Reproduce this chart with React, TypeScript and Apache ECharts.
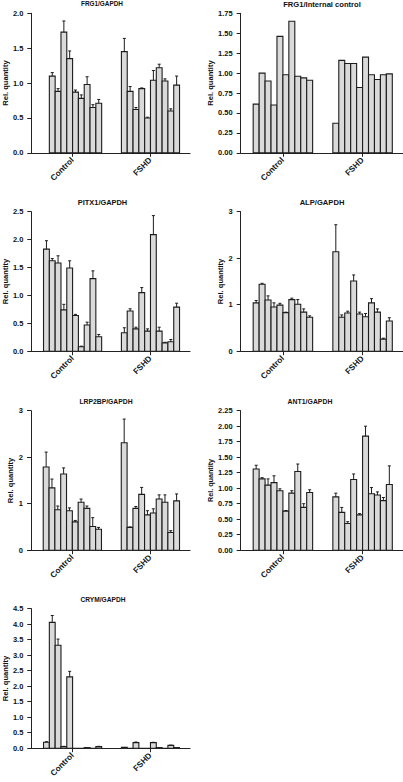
import React, { useEffect, useRef } from "react";
import * as echarts from "echarts";

// ---------- data ----------
const groupNames = ["Control", "FSHD"];

const frg1GapdhControl = [null, 1.10, 0.88, 1.73, 1.35, 0.87, 0.78, 0.98, 0.65, 0.71];
const frg1GapdhControlErr = [null, 0.05, 0.04, 0.16, 0.11, 0.03, 0.05, 0.11, 0.04, 0.055];
const frg1GapdhFshd = [1.45, 0.88, 0.62, 0.92, 0.50, 1.04, 1.22, 1.03, 0.60, 0.97];
const frg1GapdhFshdErr = [0.19, 0.07, 0.03, 0.01, 0.01, 0.14, 0.05, 0.03, 0.03, 0.13];

const frg1IcControl = [0.61, 1.00, 0.90, 0.60, 1.46, 0.98, 1.65, 0.96, 0.94, 0.91];
const frg1IcFshd = [0.37, 1.16, 1.12, 1.12, 0.82, 1.20, 0.98, 0.92, 0.98, 0.99];

const pitx1Control = [1.83, 1.62, 1.58, 0.74, 1.49, 0.64, 0.08, 0.47, 1.30, 0.26];
const pitx1ControlErr = [0.15, 0.04, 0.13, 0.10, 0.13, 0.02, 0.01, 0.05, 0.14, 0.04];
const pitx1Fshd = [0.33, 0.72, 0.40, 1.05, 0.36, 2.09, 0.36, 0.15, 0.17, 0.79];
const pitx1FshdErr = [0.09, 0.04, 0.03, 0.09, 0.04, 0.34, 0.07, 0.01, 0.04, 0.07];

const alpControl = [1.04, 1.44, 1.10, 0.95, 0.99, 0.83, 1.11, 1.01, 0.84, 0.73];
const alpControlErr = [0.05, 0.02, 0.09, 0.09, 0.04, 0.01, 0.03, 0.10, 0.07, 0.03];
const alpFshd = [2.14, 0.73, 0.82, 1.51, 0.80, 0.74, 1.04, 0.84, 0.26, 0.65];
const alpFshdErr = [0.58, 0.05, 0.04, 0.13, 0.04, 0.07, 0.09, 0.07, 0.02, 0.07];

const lrp2bpControl = [1.79, 1.34, 0.87, 1.64, 0.85, 0.61, 1.03, 0.90, 0.51, 0.45];
const lrp2bpControlErr = [0.32, 0.19, 0.08, 0.13, 0.06, 0.03, 0.07, 0.05, 0.19, 0.04];
const lrp2bpFshd = [2.31, 0.49, 0.90, 1.20, 0.76, 0.80, 1.10, 1.03, 0.38, 1.06];
const lrp2bpFshdErr = [0.51, 0.01, 0.04, 0.15, 0.09, 0.09, 0.09, 0.16, 0.04, 0.15];

const ant1Control = [1.31, 1.15, 1.05, 1.09, 0.96, 0.63, 0.92, 1.27, 0.69, 0.93];
const ant1ControlErr = [0.06, 0.02, 0.10, 0.11, 0.03, 0.01, 0.04, 0.12, 0.06, 0.045];
const ant1Fshd = [0.86, 0.61, 0.43, 1.14, 0.57, 1.84, 0.91, 0.89, 0.80, 1.06];
const ant1FshdErr = [0.06, 0.08, 0.03, 0.09, 0.02, 0.16, 0.10, 0.05, 0.05, 0.30];

const crymControl = [0.19, 4.06, 3.32, 0.05, 2.30, 0, 0, 0.02, 0, 0.05];
const crymControlErr = [0.02, 0.22, 0.20, 0.01, 0.18, 0, 0, 0, 0, 0.01];
const crymFshd = [0.03, 0, 0.18, 0, 0, 0.18, 0.02, 0, 0.09, 0.02];
const crymFshdErr = [0, 0, 0.02, 0, 0, 0.01, 0, 0, 0.01, 0];

// y-axis tick settings: [max, interval, decimals]
const yFrg1Gapdh = [2, 0.5, 1];
const yFrg1Ic = [1.75, 0.25, 2];
const yPitx1 = [2.5, 0.5, 1];
const yAlp = [3, 1, 0];
const yLrp2bp = [3, 1, 0];
const yAnt1 = [2.25, 0.25, 2];
const yCrym = [4.5, 0.5, 1];

// ---------- layout ----------
const COL_X = [31, 240.7];
const COL_W = [159, 163];
const ROW_TOP = [13.3, 211.7, 410.7, 608.7];
const ROW_H = 139.5;
const GROUP_START = [2.1, 15.5]; // slot units on the hidden value axis
const X_MAX = 27.3;
const FONT = "'Liberation Sans', Arial, Helvetica, sans-serif";

type Panel = {
  title: string;
  col: number;
  row: number;
  titleX: number;
  titleSize: number;
  nameGap: number;
  nameSize: number;
  y: number[];
  control: (number | null)[];
  controlErr: (number | null)[] | null;
  fshd: (number | null)[];
  fshdErr: (number | null)[] | null;
};

const panels: Panel[] = [
  { title: "FRG1/GAPDH", col: 0, row: 0, titleX: 102, titleSize: 6.4, nameGap: 17, nameSize: 7.6, y: yFrg1Gapdh,
    control: frg1GapdhControl, controlErr: frg1GapdhControlErr, fshd: frg1GapdhFshd, fshdErr: frg1GapdhFshdErr },
  { title: "FRG1/Internal control", col: 1, row: 0, titleX: 322, titleSize: 7.6, nameGap: 14, nameSize: 7.6, y: yFrg1Ic,
    control: frg1IcControl, controlErr: null, fshd: frg1IcFshd, fshdErr: null },
  { title: "PITX1/GAPDH", col: 0, row: 1, titleX: 102.5, titleSize: 7.4, nameGap: 17, nameSize: 7.6, y: yPitx1,
    control: pitx1Control, controlErr: pitx1ControlErr, fshd: pitx1Fshd, fshdErr: pitx1FshdErr },
  { title: "ALP/GAPDH", col: 1, row: 1, titleX: 322, titleSize: 7.6, nameGap: 13, nameSize: 7.6, y: yAlp,
    control: alpControl, controlErr: alpControlErr, fshd: alpFshd, fshdErr: alpFshdErr },
  { title: "LRP2BP/GAPDH", col: 0, row: 2, titleX: 106, titleSize: 6.8, nameGap: 10.5, nameSize: 7.6, y: yLrp2bp,
    control: lrp2bpControl, controlErr: lrp2bpControlErr, fshd: lrp2bpFshd, fshdErr: lrp2bpFshdErr },
  { title: "ANT1/GAPDH", col: 1, row: 2, titleX: 310, titleSize: 6.9, nameGap: 22.5, nameSize: 7.2, y: yAnt1,
    control: ant1Control, controlErr: ant1ControlErr, fshd: ant1Fshd, fshdErr: ant1FshdErr },
  { title: "CRYM/GAPDH", col: 0, row: 3, titleX: 103, titleSize: 6.6, nameGap: 17, nameSize: 7.6, y: yCrym,
    control: crymControl, controlErr: crymControlErr, fshd: crymFshd, fshdErr: crymFshdErr },
];

const groupCenters = GROUP_START.map((s) => s + 5);

function buildData(p: Panel) {
  const out: any[] = [];
  const sets = [
    [p.control, p.controlErr],
    [p.fshd, p.fshdErr],
  ] as const;
  sets.forEach(([vals, errs], g) => {
    vals.forEach((v, i) => {
      if (v === null || v === undefined) return;
      const e = errs ? errs[i] ?? 0 : 0;
      out.push([GROUP_START[g] + i, v, e]);
    });
  });
  return out;
}

function renderBar(params: any, api: any) {
  const pos = api.value(0);
  const val = api.value(1);
  const err = api.value(2);
  const w = api.size([1, 0])[0];
  const top = api.coord([pos, val]);
  const base = api.coord([pos, 0]);
  const children: any[] = [
    {
      type: "rect",
      shape: { x: top[0], y: top[1], width: w, height: base[1] - top[1] },
      style: { fill: "#dadada", stroke: "#1c1c1c", lineWidth: 1.1 },
    },
  ];
  if (err > 0) {
    const et = api.coord([pos, val + err]);
    const xc = top[0] + w / 2;
    children.push({
      type: "line",
      shape: { x1: xc, y1: top[1], x2: xc, y2: et[1] },
      style: { stroke: "#1c1c1c", lineWidth: 1 },
    });
    children.push({
      type: "line",
      shape: { x1: xc - 1.5, y1: et[1], x2: xc + 1.5, y2: et[1] },
      style: { stroke: "#1c1c1c", lineWidth: 1 },
    });
  }
  return { type: "group", children };
}

function buildOption() {
  const grid: any[] = [];
  const xAxis: any[] = [];
  const yAxis: any[] = [];
  const title: any[] = [];
  const series: any[] = [];
  panels.forEach((p, k) => {
    const top = ROW_TOP[p.row];
    grid.push({ left: COL_X[p.col], top, width: COL_W[p.col], height: ROW_H, containLabel: false });
    title.push({
      text: p.title,
      left: p.titleX,
      top: top - 8.5 - p.titleSize * 0.6,
      textAlign: "center",
      padding: 0,
      textStyle: { fontFamily: FONT, fontWeight: "bold", fontSize: p.titleSize, color: "#111" },
    });
    xAxis.push({
      type: "value",
      gridIndex: k,
      min: 0,
      max: X_MAX,
      splitLine: { show: false },
      axisLine: { show: true, onZero: false, lineStyle: { color: "#222", width: 1 } },
      axisTick: { show: true, customValues: groupCenters, length: 4, lineStyle: { color: "#222", width: 1 } },
      axisLabel: {
        show: true,
        customValues: groupCenters,
        rotate: 45,
        margin: 6,
        fontFamily: FONT,
        fontWeight: "bold",
        fontSize: 8.2,
        color: "#111",
        formatter: (v: number) => {
          let best = 0;
          groupCenters.forEach((c, i) => {
            if (Math.abs(c - v) < Math.abs(groupCenters[best] - v)) best = i;
          });
          return groupNames[best];
        },
      },
    });
    const [ymax, yint, ydec] = p.y;
    yAxis.push({
      type: "value",
      gridIndex: k,
      min: 0,
      max: ymax,
      interval: yint,
      name: "Rel. quantity",
      nameLocation: "middle",
      nameRotate: 90,
      nameGap: p.nameGap,
      nameTextStyle: { fontFamily: FONT, fontWeight: "bold", fontSize: p.nameSize, color: "#111" },
      splitLine: { show: false },
      axisLine: { show: true, lineStyle: { color: "#222", width: 1 } },
      axisTick: { show: true, length: 4, lineStyle: { color: "#222", width: 1 } },
      axisLabel: {
        margin: 8,
        fontFamily: FONT,
        fontWeight: "bold",
        fontSize: 7.5,
        color: "#111",
        formatter: (v: number) => v.toFixed(ydec),
      },
    });
    series.push({
      type: "custom",
      xAxisIndex: k,
      yAxisIndex: k,
      clip: false,
      encode: { x: 0, y: 1 },
      data: buildData(p),
      renderItem: renderBar,
    });
  });
  return { animation: false, backgroundColor: "#ffffff", title, grid, xAxis, yAxis, series };
}

export default function App() {
  const ref = useRef<HTMLDivElement>(null);
  useEffect(() => {
    if (!ref.current) return;
    const chart = echarts.init(ref.current, undefined, { renderer: "svg" });
    chart.setOption(buildOption() as any);
    return () => chart.dispose();
  }, []);
  return (
    <div
      ref={ref}
      style={{ position: "absolute", left: 0, top: 0, width: 403, height: 782, background: "#fff" }}
    />
  );
}
